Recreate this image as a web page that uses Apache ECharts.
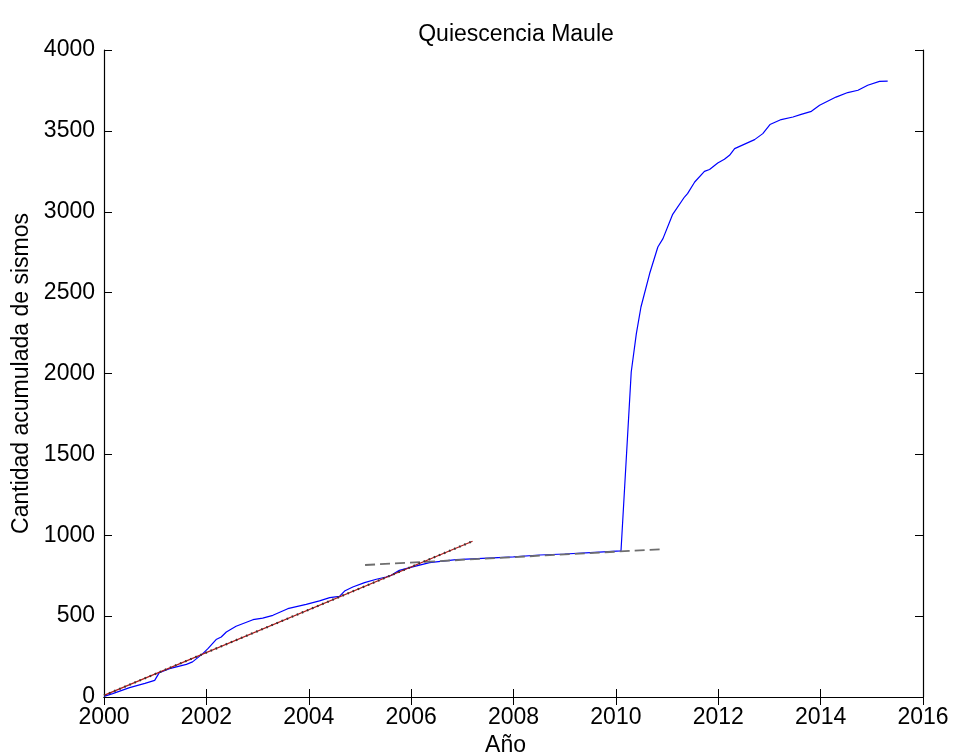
<!DOCTYPE html>
<html>
<head>
<meta charset="utf-8">
<script src="https://cdn.jsdelivr.net/npm/echarts@6/dist/echarts.min.js"></script>
<style>
  html, body { margin: 0; padding: 0; background: #fff; }
  #chart { width: 953px; height: 756px; }
</style>
</head>
<body>
<div id="chart"></div>
<script>
// Cumulative earthquake count, Maule region
const years = [
  2000.00, 2000.17, 2000.50, 2000.80, 2000.99, 2001.08, 2001.28, 2001.61, 2001.73,
  2001.93, 2002.03, 2002.19, 2002.29, 2002.39, 2002.58, 2002.91, 2003.10, 2003.30,
  2003.59, 2003.95, 2004.21, 2004.41, 2004.60, 2004.70, 2004.86, 2005.09, 2005.32,
  2005.51, 2005.61, 2005.77, 2006.03, 2006.36, 2006.88, 2007.50, 2008.00, 2008.51,
  2009.00, 2009.50, 2010.10, 2010.30, 2010.40, 2010.49, 2010.66, 2010.82, 2010.92,
  2011.11, 2011.34, 2011.40, 2011.54, 2011.73, 2011.83, 2011.99, 2012.12, 2012.22,
  2012.32, 2012.71, 2012.87, 2013.01, 2013.23, 2013.46, 2013.62, 2013.82, 2013.98,
  2014.30, 2014.53, 2014.73, 2014.92, 2015.15, 2015.31
];
const counts = [
  4, 21, 58, 84, 103, 151, 175, 202, 217,
  268, 299, 355, 371, 402, 437, 478, 488, 505,
  546, 573, 594, 614, 622, 655, 680, 707, 728,
  742, 752, 783, 804, 831, 849, 858, 866, 878,
  884, 893, 903, 2009, 2247, 2411, 2618, 2782, 2834,
  2984, 3091, 3112, 3184, 3250, 3261, 3301, 3324, 3349,
  3390, 3446, 3483, 3539, 3570, 3586, 3602, 3621, 3658,
  3709, 3737, 3751, 3782, 3806, 3808
];

// Linear fit before the quiescence
const fitBeforeYears = [2000.0, 2007.2];
const fitBeforeCounts = [10, 963];

// Linear fit during the quiescence
const fitQuietYears = [2005.1, 2010.86];
const fitQuietCounts = [816, 913];

const xTicks = { min: 2000, max: 2016, step: 2 };
const yTicks = { min: 0, max: 4000, step: 500 };

const pairs = (xs, ys) => xs.map((x, i) => [x, ys[i]]);

const FONT = 'Liberation Sans, Helvetica, Arial, sans-serif';
const textStyle = { fontFamily: FONT, fontSize: 23, color: '#000' };
const plain = (v) => String(v);

const axisCommon = {
  type: 'value',
  axisLine: { show: true, lineStyle: { color: '#000', width: 1.2 } },
  axisTick: { show: true, inside: true, length: 8, lineStyle: { color: '#000', width: 1 } },
  splitLine: { show: false }
};

const chart = echarts.init(document.getElementById('chart'), null, { renderer: 'canvas' });
chart.setOption({
  animation: false,
  backgroundColor: '#fff',
  title: {
    text: 'Quiescencia Maule',
    left: 511,
    top: 18,
    textAlign: 'center',
    textStyle: { fontFamily: FONT, fontSize: 23, fontWeight: 'normal', color: '#000' }
  },
  grid: { left: 104, right: 30, top: 50, bottom: 59, outerBoundsMode: 'none', containLabel: false },
  xAxis: [
    Object.assign({}, axisCommon, {
      position: 'bottom',
      min: xTicks.min, max: xTicks.max, interval: xTicks.step,
      name: 'Año',
      nameLocation: 'middle',
      nameGap: 34,
      nameTextStyle: Object.assign({}, textStyle, { padding: [0, 16, 0, 0] }),
      axisLabel: Object.assign({}, textStyle, { margin: 9, formatter: plain })
    }),
    Object.assign({}, axisCommon, {
      position: 'top',
      min: xTicks.min, max: xTicks.max, interval: xTicks.step,
      axisLabel: { show: false }
    })
  ],
  yAxis: [
    Object.assign({}, axisCommon, {
      position: 'left',
      min: yTicks.min, max: yTicks.max, interval: yTicks.step,
      name: 'Cantidad acumulada de sismos',
      nameLocation: 'middle',
      nameGap: 64,
      nameTextStyle: textStyle,
      axisLabel: Object.assign({}, textStyle, { margin: 9, formatter: plain })
    }),
    Object.assign({}, axisCommon, {
      position: 'right',
      min: yTicks.min, max: yTicks.max, interval: yTicks.step,
      axisLabel: { show: false }
    })
  ],
  series: [
    {
      name: 'acumulado',
      type: 'line',
      data: pairs(years, counts),
      showSymbol: false,
      lineStyle: { color: '#0000ff', width: 1.2 },
      z: 2
    },
    {
      name: 'ajuste quiescencia',
      type: 'line',
      data: pairs(fitQuietYears, fitQuietCounts),
      showSymbol: false,
      lineStyle: { color: '#6e6e6e', width: 1.8, type: [10, 5] },
      z: 3
    },
    {
      name: 'ajuste previo',
      type: 'line',
      data: pairs(fitBeforeYears, fitBeforeCounts),
      showSymbol: false,
      lineStyle: { color: '#b01818', width: 1.2 },
      z: 4
    },
    {
      name: 'ajuste previo (puntos)',
      type: 'line',
      data: pairs(fitBeforeYears, fitBeforeCounts),
      showSymbol: false,
      lineStyle: { color: '#333333', width: 2.2, type: [1.5, 4], cap: 'butt' },
      z: 5
    }
  ]
});
</script>
</body>
</html>
